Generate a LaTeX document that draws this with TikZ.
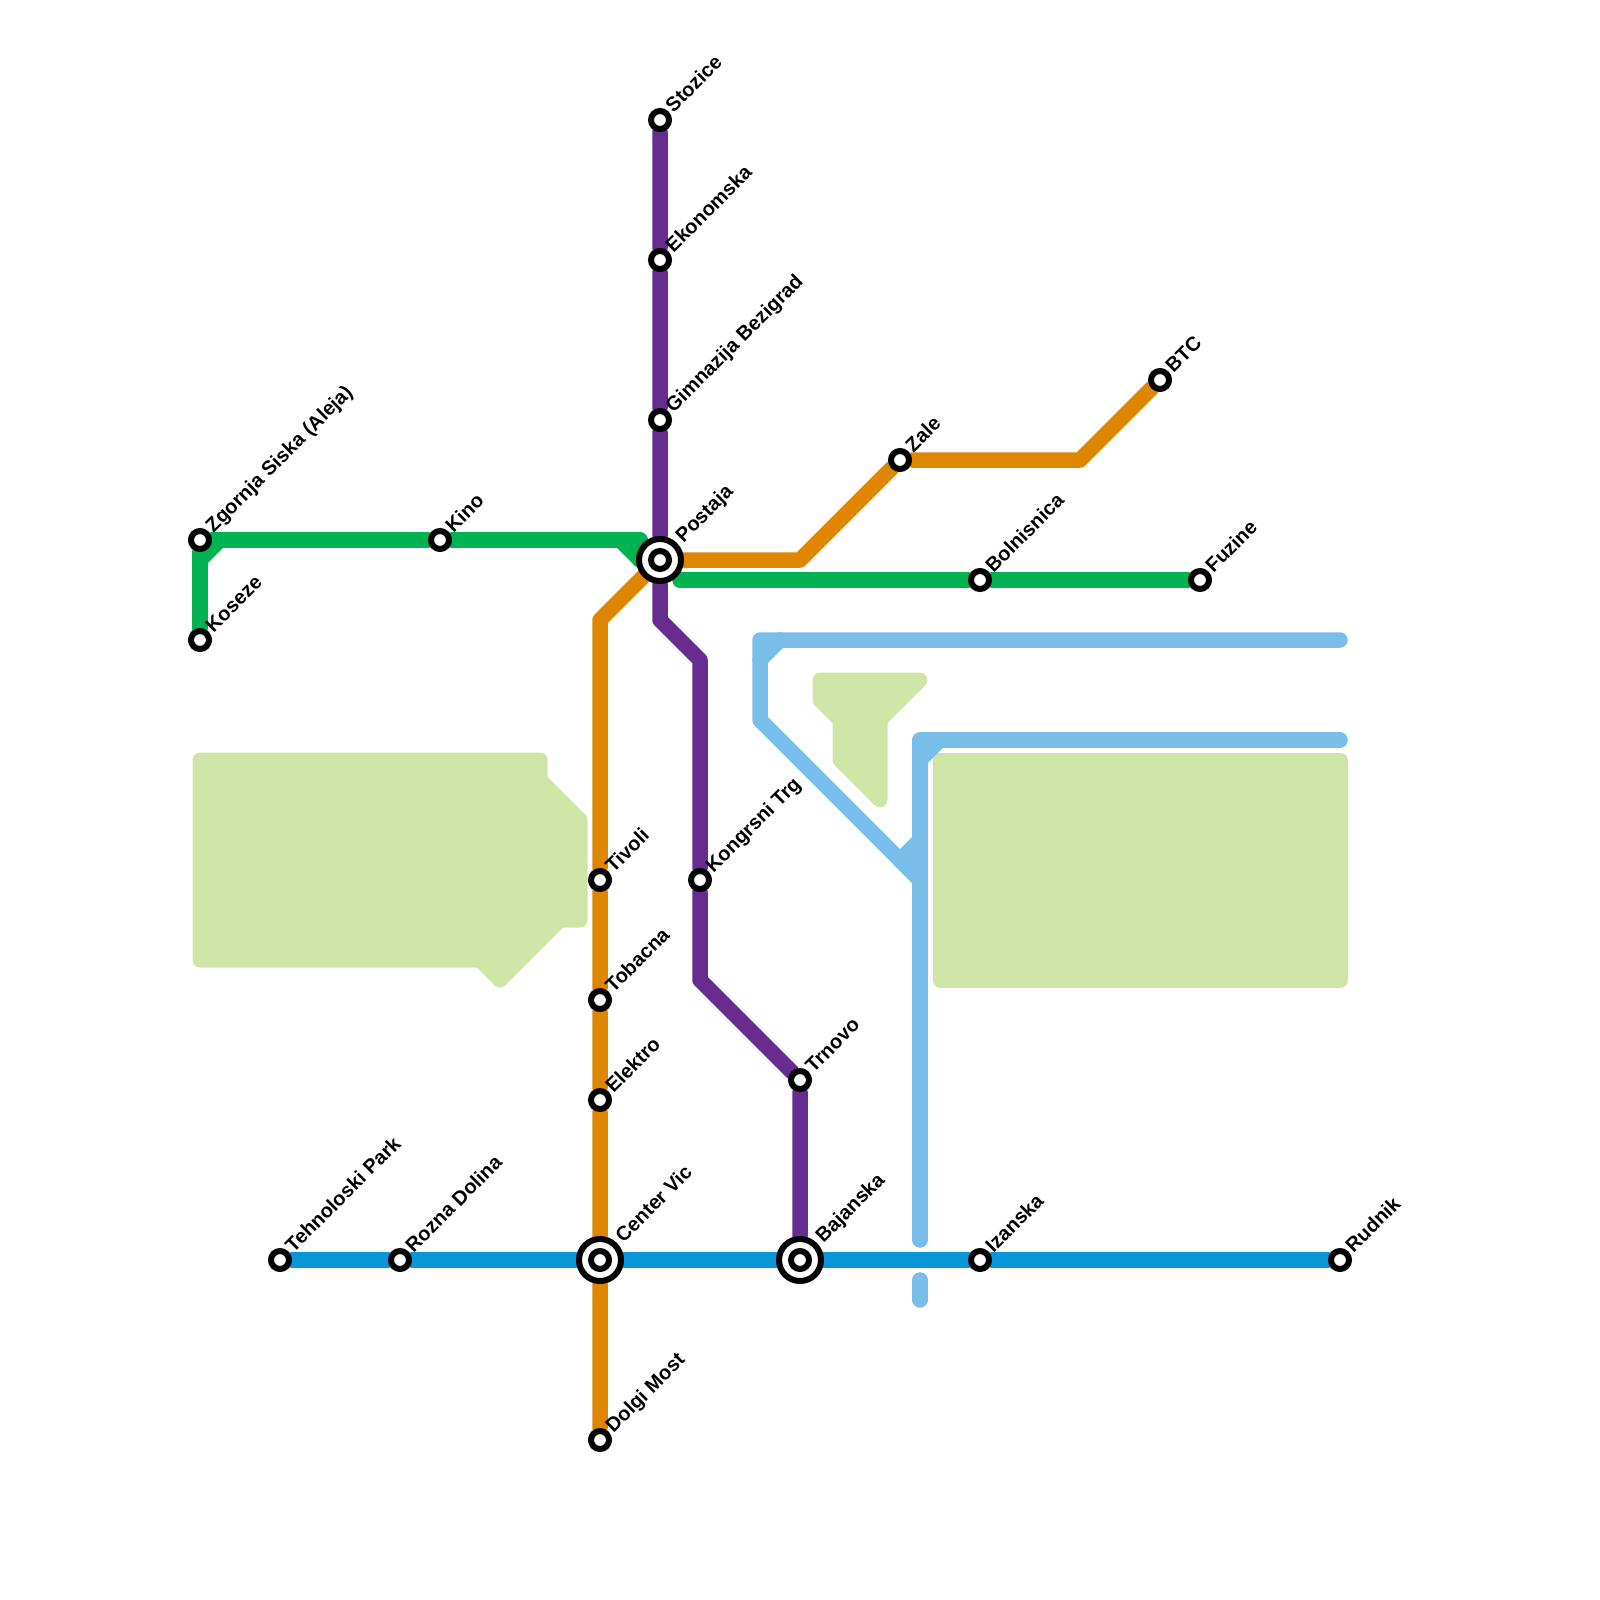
\documentclass[tikz,border=0pt]{standalone}
\usepackage{fontspec}
\setmainfont{Liberation Sans}
\usepackage{xcolor}
\usetikzlibrary{backgrounds}
\definecolor{lineOrange}{RGB}{223,134,0}
\definecolor{linePurple}{RGB}{102,44,144}
\definecolor{lineGreen}{RGB}{0,178,81}
\definecolor{lineBlue}{RGB}{9,150,215}
\definecolor{lineSky}{RGB}{121,189,233}
\definecolor{parkGreen}{RGB}{207,228,167}

\begin{document}
\begin{tikzpicture}[x=1pt, y=-1pt,
    stn/.style={circle, draw=black, line width=6pt, fill=white, minimum size=18pt, inner sep=0pt},
    hub/.style={stn, minimum size=42pt},
    lbl/.style={rotate=45, anchor=west, inner sep=0pt, text height=14.3pt, text depth=0pt, label distance=3pt, font=\bfseries\fontsize{20}{20}\selectfont},
    hublbl/.style={lbl, label distance=6pt, yshift=-2pt},
    metro/.style={line width=15.5pt, line cap=round, line join=round},
    park/.style={draw=parkGreen, fill=parkGreen, line width=15pt, line join=round}]
    \useasboundingbox (0,0) rectangle (1600,1600);
    % stations
    \node[stn, label={[lbl]45:Zgornja Siska (Aleja)}] (zgornja) at (200,540) {};
    \node[stn, label={[lbl]45:Koseze}] (koseze) at (200,640) {};
    \node[stn, label={[lbl]45:Kino}] (kino) at (440,540) {};
    \node[stn, label={[lbl]45:Stozice}] (stozice) at (660,120) {};
    \node[stn, label={[lbl]45:Ekonomska}] (ekonomska) at (660,260) {};
    \node[stn, label={[lbl]45:Gimnazija Bezigrad}] (gimnazija) at (660,420) {};
    \node[hub, label={[hublbl]45:Postaja}] (postaja) at (660,560) {};
    \node[stn] (postajaC) at (660,560) {};
    \node[stn, label={[lbl]45:Zale}] (zale) at (900,460) {};
    \node[stn, label={[lbl]45:BTC}] (btc) at (1160,380) {};
    \node[stn, label={[lbl]45:Bolnisnica}] (bolnisnica) at (980,580) {};
    \node[stn, label={[lbl]45:Fuzine}] (fuzine) at (1200,580) {};
    \node[stn, label={[lbl]45:Tivoli}] (tivoli) at (600,880) {};
    \node[stn, label={[lbl]45:Tobacna}] (tobacna) at (600,1000) {};
    \node[stn, label={[lbl]45:Elektro}] (elektro) at (600,1100) {};
    \node[hub, label={[hublbl]45:Center Vic}] (center) at (600,1260) {};
    \node[stn] (centerC) at (600,1260) {};
    \node[stn, label={[lbl]45:Dolgi Most}] (dolgi) at (600,1440) {};
    \node[stn, label={[lbl]45:Kongrsni Trg}] (kongrsni) at (700,880) {};
    \node[stn, label={[lbl]45:Trnovo}] (trnovo) at (800,1080) {};
    \node[hub, label={[hublbl]45:Bajanska}] (bajanska) at (800,1260) {};
    \node[stn] (bajanskaC) at (800,1260) {};
    \node[stn, label={[lbl]45:Izanska}] (izanska) at (980,1260) {};
    \node[stn, label={[lbl]45:Rudnik}] (rudnik) at (1340,1260) {};
    \node[stn, label={[lbl]45:Tehnoloski Park}] (tehnoloski) at (280,1260) {};
    \node[stn, label={[lbl]45:Rozna Dolina}] (rozna) at (400,1260) {};
    % bends and free ends
    \coordinate (grA) at (640,540); \coordinate (grB) at (620,540); \coordinate (grC) at (640,560);
    \coordinate (grD) at (680,580); \coordinate (grE) at (200,560); \coordinate (grF) at (220,540);
    \coordinate (orA) at (600,620); \coordinate (orB) at (800,560); \coordinate (orC) at (1080,460);
    \coordinate (puA) at (660,620); \coordinate (puB) at (700,660); \coordinate (puC) at (700,980);
    \coordinate (skA) at (1340,640); \coordinate (skB) at (760,640); \coordinate (skC) at (760,720);
    \coordinate (skD) at (920,880); \coordinate (skE) at (760,660); \coordinate (skF) at (780,640);
    \coordinate (skG) at (1340,740); \coordinate (skH) at (920,740); \coordinate (skI) at (920,1240);
    \coordinate (skJ) at (920,1280); \coordinate (skK) at (920,1300); \coordinate (skL) at (920,760);
    \coordinate (skM) at (940,740); \coordinate (skN) at (900,860); \coordinate (skO) at (920,840);
    \begin{scope}[on background layer]
      % parks
      \draw[park] (200,760) -- (540,760) -- (540,780) -- (580,820) -- (580,920) -- (560,920) -- (500,980) -- (480,960) -- (200,960) -- cycle;
      \draw[park] (820,680) -- (920,680) -- (880,720) -- (880,800) -- (840,760) -- (840,720) -- (820,700) -- cycle;
      \draw[park] (940,760) -- (1340,760) -- (1340,980) -- (940,980) -- cycle;
      % lines
      \draw[metro, lineSky] (skA) -- (skB) -- (skC) -- (skD); \draw[metro, lineSky] (skE) -- (skF);
      \draw[metro, lineSky] (skG) -- (skH) -- (skI); \draw[metro, lineSky] (skJ) -- (skK);
      \draw[metro, lineSky] (skL) -- (skM); \draw[metro, lineSky, fill=lineSky] (skN) -- (skO) -- (skD) -- cycle;
      \draw[metro, lineBlue] (tehnoloski) -- (rozna) -- (center) -- (bajanska) -- (izanska) -- (rudnik);
      \draw[metro, lineGreen] (koseze) -- (zgornja) -- (kino) -- (grA); \draw[metro, lineGreen] (grB) -- (grC);
      \draw[metro, lineGreen] (grA) -- (grC); \draw[metro, lineGreen] (grE) -- (grF);
      \draw[metro, lineGreen] (grD) -- (bolnisnica) -- (fuzine);
      \draw[metro, lineOrange] (dolgi) -- (center) -- (elektro) -- (tobacna) -- (tivoli) -- (orA) -- (postaja);
      \draw[metro, lineOrange] (postaja) -- (orB) -- (zale) -- (orC) -- (btc);
      \draw[metro, linePurple] (stozice) -- (ekonomska) -- (gimnazija) -- (postaja) -- (puA) -- (puB) -- (kongrsni) -- (puC) -- (trnovo) -- (bajanska);
    \end{scope}
  \end{tikzpicture}
\end{document}
